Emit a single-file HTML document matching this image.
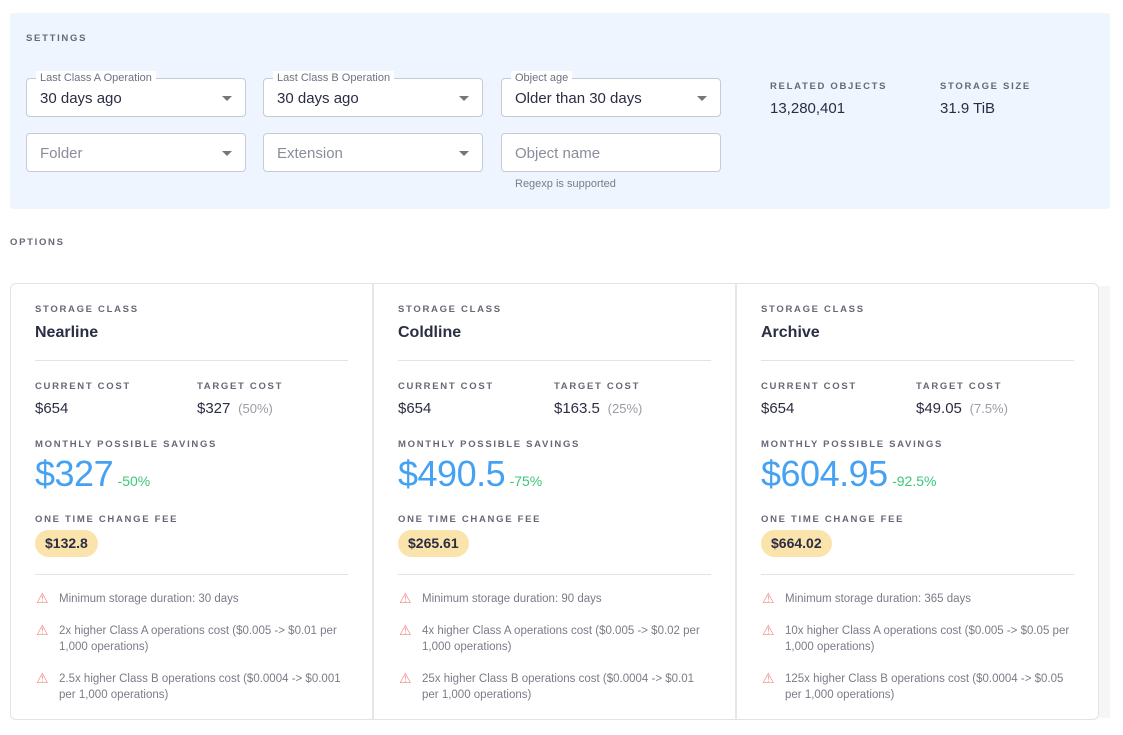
<!DOCTYPE html>
<html><head><meta charset="utf-8"><style>
*{box-sizing:border-box;margin:0;padding:0}
body{width:1123px;height:735px;background:#fff;font-family:"Liberation Sans",sans-serif;color:#2b2d42;position:relative;overflow:hidden}
.a{position:absolute;white-space:nowrap}
.cap{font-size:9.5px;letter-spacing:1.7px;color:#666876;font-weight:bold}
.panel{position:absolute;left:10px;top:13px;width:1100px;height:196px;background:#eef5fe;border-radius:3px}
.inp{position:absolute;width:220px;height:39px;background:#fff;border:1px solid #c8cbd3;border-radius:4px}
.inp .v{position:absolute;left:13px;top:11px;font-size:15px;color:#2b2d42}
.inp .ph{color:#8a8d99}
.inp .lb{position:absolute;left:9px;top:-8px;font-size:11px;color:#6f7180;background:#fff;padding:0 4px;line-height:14px}
.inp .ar{position:absolute;right:13px;top:17px;width:0;height:0;border-left:5px solid transparent;border-right:5px solid transparent;border-top:5px solid #75777f}
.card{position:absolute;left:10px;top:283px;width:1089px;height:437px;border:1px solid #e2e3e6;border-radius:6px}
.div{position:absolute;top:284px;width:2px;height:435px;background:#e6e7ea}
.hr{position:absolute;width:313px;height:1px;background:#e2e3e6}
.val{font-size:15px;color:#2b2d42}
.big{font-size:36px;color:#45a2f2;letter-spacing:-0.5px}
.pct{font-size:14px;color:#3ec77a}
.fee{background:#fbe3ac;border-radius:14px;padding:0 10px;height:27px;line-height:27px;font-size:14px;font-weight:bold;color:#2b2d42}
.w{font-size:11.5px;color:#7a7c88;line-height:16px;white-space:normal;width:290px}
.tri{position:absolute;color:#f08a80;font-size:14px}
</style></head><body>
<div class="panel"></div>
<div class="a cap" style="left:26px;top:33px">SETTINGS</div>
<div class="inp" style="left:26px;top:78px"><span class="lb">Last Class A Operation</span><span class="v">30 days ago</span><span class="ar"></span></div>
<div class="inp" style="left:263px;top:78px"><span class="lb">Last Class B Operation</span><span class="v">30 days ago</span><span class="ar"></span></div>
<div class="inp" style="left:501px;top:78px"><span class="lb">Object age</span><span class="v">Older than 30 days</span><span class="ar"></span></div>
<div class="inp" style="left:26px;top:133px"><span class="v ph">Folder</span><span class="ar"></span></div>
<div class="inp" style="left:263px;top:133px"><span class="v ph">Extension</span><span class="ar"></span></div>
<div class="inp" style="left:501px;top:133px"><span class="v ph">Object name</span></div>
<div class="a" style="left:515px;top:178px;font-size:11px;color:#7a7c88">Regexp is supported</div>
<div class="a cap" style="left:770px;top:81px">RELATED OBJECTS</div>
<div class="a val" style="left:770px;top:100px">13,280,401</div>
<div class="a cap" style="left:940px;top:81px">STORAGE SIZE</div>
<div class="a val" style="left:940px;top:100px">31.9 TiB</div>
<div class="a cap" style="left:10px;top:237px">OPTIONS</div>
<div style="position:absolute;left:1099px;top:286px;width:11px;height:432px;background:#f6f6f7"></div>
<div class="card"></div>
<div class="div" style="left:372px"></div>
<div class="div" style="left:735px"></div>

<!-- col 1 -->
<div class="a cap" style="left:35px;top:304px">STORAGE CLASS</div>
<div class="a" style="left:35px;top:324px;font-size:16px;font-weight:bold">Nearline</div>
<div class="hr" style="left:35px;top:360px"></div>
<div class="a cap" style="left:35px;top:381px">CURRENT COST</div>
<div class="a val" style="left:35px;top:400px">$654</div>
<div class="a cap" style="left:197px;top:381px">TARGET COST</div>
<div class="a val" style="left:197px;top:400px">$327 <span style="color:#9a9ca6;font-size:13px">&nbsp;(50%)</span></div>
<div class="a cap" style="left:35px;top:439px">MONTHLY POSSIBLE SAVINGS</div>
<div class="a" style="left:35px;top:453px"><span class="big">$327</span> <span class="pct">-50%</span></div>
<div class="a cap" style="left:35px;top:514px">ONE TIME CHANGE FEE</div>
<div class="a fee" style="left:35px;top:530px">$132.8</div>
<div class="hr" style="left:35px;top:574px"></div>
<div class="tri" style="left:36px;top:590px">⚠</div><div class="a w" style="left:59px;top:591px">Minimum storage duration: 30 days</div>
<div class="tri" style="left:36px;top:622px">⚠</div><div class="a w" style="left:59px;top:623px">2x higher Class A operations cost ($0.005 -&gt; $0.01 per 1,000 operations)</div>
<div class="tri" style="left:36px;top:670px">⚠</div><div class="a w" style="left:59px;top:671px">2.5x higher Class B operations cost ($0.0004 -&gt; $0.001 per 1,000 operations)</div>

<!-- col 2 -->
<div class="a cap" style="left:398px;top:304px">STORAGE CLASS</div>
<div class="a" style="left:398px;top:324px;font-size:16px;font-weight:bold">Coldline</div>
<div class="hr" style="left:398px;top:360px"></div>
<div class="a cap" style="left:398px;top:381px">CURRENT COST</div>
<div class="a val" style="left:398px;top:400px">$654</div>
<div class="a cap" style="left:554px;top:381px">TARGET COST</div>
<div class="a val" style="left:554px;top:400px">$163.5 <span style="color:#9a9ca6;font-size:13px">&nbsp;(25%)</span></div>
<div class="a cap" style="left:398px;top:439px">MONTHLY POSSIBLE SAVINGS</div>
<div class="a" style="left:398px;top:453px"><span class="big">$490.5</span> <span class="pct">-75%</span></div>
<div class="a cap" style="left:398px;top:514px">ONE TIME CHANGE FEE</div>
<div class="a fee" style="left:398px;top:530px">$265.61</div>
<div class="hr" style="left:398px;top:574px"></div>
<div class="tri" style="left:399px;top:590px">⚠</div><div class="a w" style="left:422px;top:591px">Minimum storage duration: 90 days</div>
<div class="tri" style="left:399px;top:622px">⚠</div><div class="a w" style="left:422px;top:623px">4x higher Class A operations cost ($0.005 -&gt; $0.02 per 1,000 operations)</div>
<div class="tri" style="left:399px;top:670px">⚠</div><div class="a w" style="left:422px;top:671px">25x higher Class B operations cost ($0.0004 -&gt; $0.01 per 1,000 operations)</div>

<!-- col 3 -->
<div class="a cap" style="left:761px;top:304px">STORAGE CLASS</div>
<div class="a" style="left:761px;top:324px;font-size:16px;font-weight:bold">Archive</div>
<div class="hr" style="left:761px;top:360px"></div>
<div class="a cap" style="left:761px;top:381px">CURRENT COST</div>
<div class="a val" style="left:761px;top:400px">$654</div>
<div class="a cap" style="left:916px;top:381px">TARGET COST</div>
<div class="a val" style="left:916px;top:400px">$49.05 <span style="color:#9a9ca6;font-size:13px">&nbsp;(7.5%)</span></div>
<div class="a cap" style="left:761px;top:439px">MONTHLY POSSIBLE SAVINGS</div>
<div class="a" style="left:761px;top:453px"><span class="big">$604.95</span> <span class="pct">-92.5%</span></div>
<div class="a cap" style="left:761px;top:514px">ONE TIME CHANGE FEE</div>
<div class="a fee" style="left:761px;top:530px">$664.02</div>
<div class="hr" style="left:761px;top:574px"></div>
<div class="tri" style="left:762px;top:590px">⚠</div><div class="a w" style="left:785px;top:591px">Minimum storage duration: 365 days</div>
<div class="tri" style="left:762px;top:622px">⚠</div><div class="a w" style="left:785px;top:623px">10x higher Class A operations cost ($0.005 -&gt; $0.05 per 1,000 operations)</div>
<div class="tri" style="left:762px;top:670px">⚠</div><div class="a w" style="left:785px;top:671px">125x higher Class B operations cost ($0.0004 -&gt; $0.05 per 1,000 operations)</div>
</body></html>
